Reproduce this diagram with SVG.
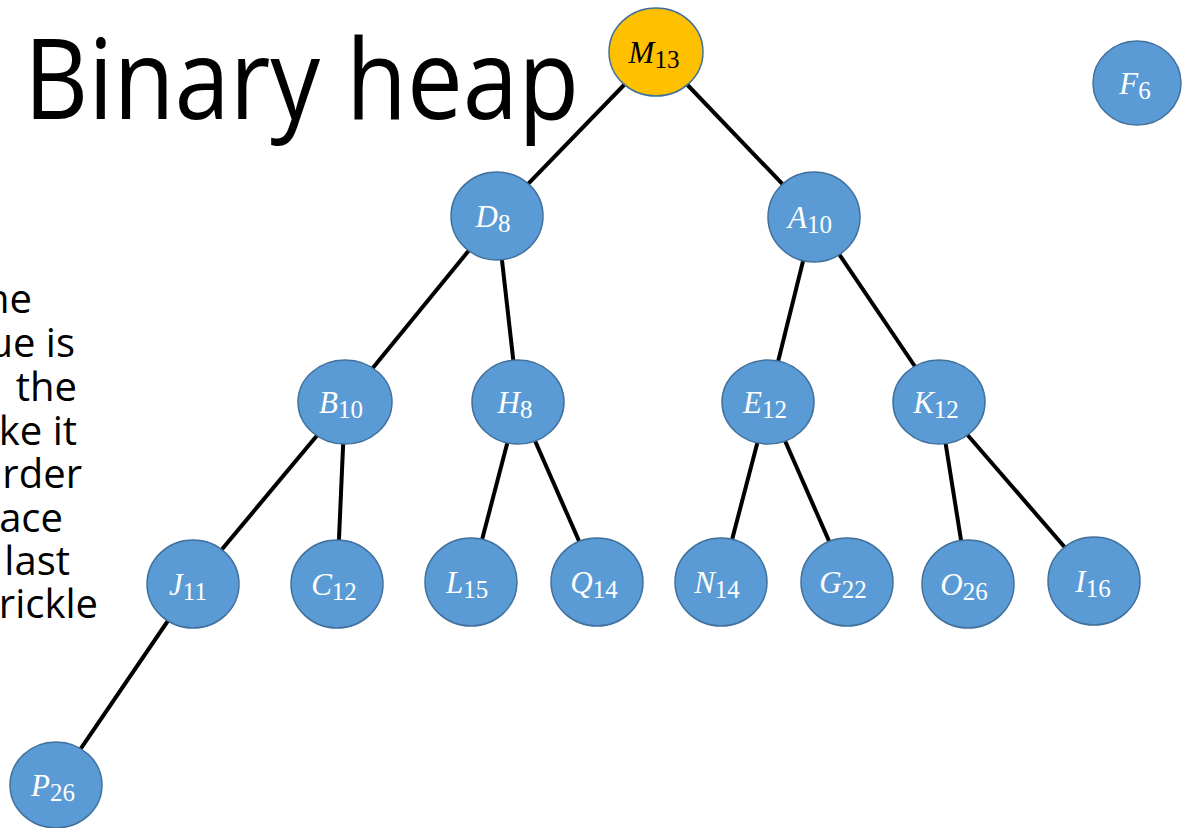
<svg xmlns="http://www.w3.org/2000/svg" width="1189" height="828" viewBox="0 0 1189 828">
  <style>
    .title { font-family: "Open Sans", "Liberation Sans", sans-serif; font-size: 112px; fill: #000; }
    .body { font-family: "Open Sans", "Liberation Sans", sans-serif; font-size: 40px; fill: #000; text-anchor: end; }
    .node ellipse { fill: #5B9BD5; stroke: #41719C; stroke-width: 1.5; }
    .node.root ellipse { fill: #FFC000; }
    .lbl { font-family: "Liberation Serif", "DejaVu Serif", serif; font-size: 31px; fill: #fff; text-anchor: middle; }
    .root .lbl { fill: #000; }
    .lbl .v { font-style: italic; }
    .lbl .s { font-size: 25px; }
    .edges line { stroke: #000; stroke-width: 4; }
  </style>
  <rect width="1189" height="828" fill="#fff"/>

  <!-- slide title and clipped body text -->
  <text class="title" x="24" y="119" textLength="555" lengthAdjust="spacingAndGlyphs">Binary heap</text>
  <g id="bodytext">
    <text class="body" x="32" y="313">he</text>
    <text class="body" x="75" y="357">ue is</text>
    <text class="body" x="77" y="401">the</text>
    <text class="body" x="77" y="445">ke it</text>
    <text class="body" x="82" y="488">rder</text>
    <text class="body" x="63" y="532">ace</text>
    <text class="body" x="70" y="575">last</text>
    <text class="body" x="98" y="618">rickle</text>
  </g>

  <!-- tree edges (centre to centre, drawn under the nodes) -->
  <g id="edges" class="edges">
    <line x1="656" y1="52" x2="497" y2="216"/>
    <line x1="656" y1="52" x2="814" y2="217"/>
    <line x1="497" y1="216" x2="345" y2="402"/>
    <line x1="497" y1="216" x2="518" y2="402"/>
    <line x1="814" y1="217" x2="768" y2="402"/>
    <line x1="814" y1="217" x2="939" y2="402"/>
    <line x1="345" y1="402" x2="193" y2="584"/>
    <line x1="345" y1="402" x2="337" y2="584"/>
    <line x1="518" y1="402" x2="471" y2="582"/>
    <line x1="518" y1="402" x2="597" y2="582"/>
    <line x1="768" y1="402" x2="721" y2="582"/>
    <line x1="768" y1="402" x2="847" y2="582"/>
    <line x1="939" y1="402" x2="968" y2="584"/>
    <line x1="939" y1="402" x2="1094" y2="581"/>
    <line x1="193" y1="584" x2="56" y2="785"/>
  </g>

  <g id="node-M13" class="node root">
    <ellipse cx="656" cy="52" rx="47" ry="44"/>
    <text class="lbl" x="654" y="63"><tspan class="v">M</tspan><tspan class="s" dy="5">13</tspan></text>
  </g>
  <g id="node-F6" class="node">
    <ellipse cx="1137" cy="83" rx="44" ry="42"/>
    <text class="lbl" x="1135" y="94"><tspan class="v">F</tspan><tspan class="s" dy="5">6</tspan></text>
  </g>
  <g id="node-D8" class="node">
    <ellipse cx="497" cy="216" rx="46" ry="44"/>
    <text class="lbl" x="493" y="227"><tspan class="v">D</tspan><tspan class="s" dy="5">8</tspan></text>
  </g>
  <g id="node-A10" class="node">
    <ellipse cx="814" cy="217" rx="46" ry="45"/>
    <text class="lbl" x="810" y="228"><tspan class="v">A</tspan><tspan class="s" dy="5">10</tspan></text>
  </g>
  <g id="node-B10" class="node">
    <ellipse cx="345" cy="402" rx="47" ry="42"/>
    <text class="lbl" x="341" y="413"><tspan class="v">B</tspan><tspan class="s" dy="5">10</tspan></text>
  </g>
  <g id="node-H8" class="node">
    <ellipse cx="518" cy="402" rx="46" ry="42"/>
    <text class="lbl" x="515" y="413"><tspan class="v">H</tspan><tspan class="s" dy="5">8</tspan></text>
  </g>
  <g id="node-E12" class="node">
    <ellipse cx="768" cy="402" rx="46" ry="42"/>
    <text class="lbl" x="765" y="413"><tspan class="v">E</tspan><tspan class="s" dy="5">12</tspan></text>
  </g>
  <g id="node-K12" class="node">
    <ellipse cx="939" cy="402" rx="46" ry="42"/>
    <text class="lbl" x="936" y="413"><tspan class="v">K</tspan><tspan class="s" dy="5">12</tspan></text>
  </g>
  <g id="node-J11" class="node">
    <ellipse cx="193" cy="584" rx="46" ry="44"/>
    <text class="lbl" x="188" y="595"><tspan class="v">J</tspan><tspan class="s" dy="5">11</tspan></text>
  </g>
  <g id="node-C12" class="node">
    <ellipse cx="337" cy="584" rx="46" ry="44"/>
    <text class="lbl" x="334" y="595"><tspan class="v">C</tspan><tspan class="s" dy="5">12</tspan></text>
  </g>
  <g id="node-L15" class="node">
    <ellipse cx="471" cy="582" rx="46" ry="44"/>
    <text class="lbl" x="467" y="593"><tspan class="v">L</tspan><tspan class="s" dy="5">15</tspan></text>
  </g>
  <g id="node-Q14" class="node">
    <ellipse cx="597" cy="582" rx="46" ry="44"/>
    <text class="lbl" x="594" y="593"><tspan class="v">Q</tspan><tspan class="s" dy="5">14</tspan></text>
  </g>
  <g id="node-N14" class="node">
    <ellipse cx="721" cy="582" rx="46" ry="44"/>
    <text class="lbl" x="717" y="593"><tspan class="v">N</tspan><tspan class="s" dy="5">14</tspan></text>
  </g>
  <g id="node-G22" class="node">
    <ellipse cx="847" cy="582" rx="46" ry="44"/>
    <text class="lbl" x="843" y="593"><tspan class="v">G</tspan><tspan class="s" dy="5">22</tspan></text>
  </g>
  <g id="node-O26" class="node">
    <ellipse cx="968" cy="584" rx="46" ry="44"/>
    <text class="lbl" x="964" y="595"><tspan class="v">O</tspan><tspan class="s" dy="5">26</tspan></text>
  </g>
  <g id="node-I16" class="node">
    <ellipse cx="1094" cy="581" rx="46" ry="44"/>
    <text class="lbl" x="1093" y="592"><tspan class="v">I</tspan><tspan class="s" dy="5">16</tspan></text>
  </g>
  <g id="node-P26" class="node">
    <ellipse cx="56" cy="785" rx="46" ry="43"/>
    <text class="lbl" x="53" y="796"><tspan class="v">P</tspan><tspan class="s" dy="5">26</tspan></text>
  </g>
</svg>
